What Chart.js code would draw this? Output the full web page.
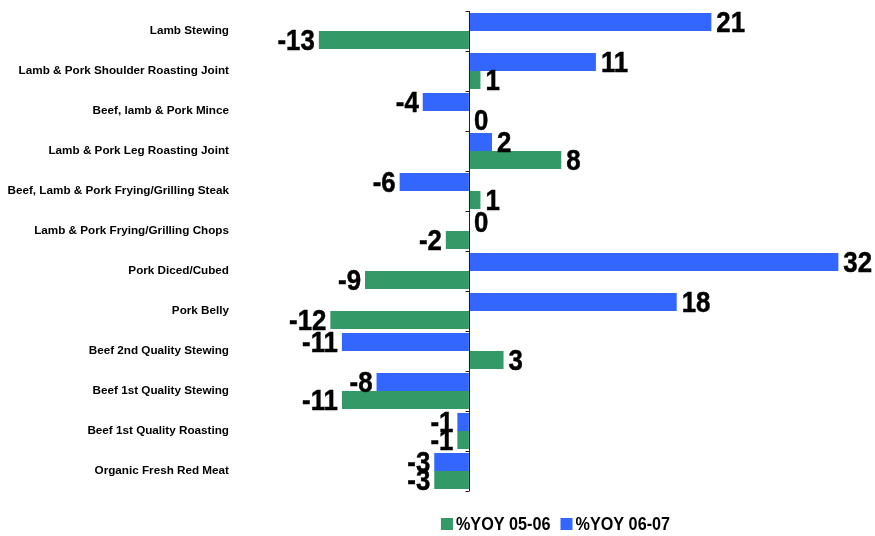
<!DOCTYPE html>
<html>
<head>
<meta charset="utf-8">
<script src="https://cdn.jsdelivr.net/npm/chart.js@4"></script>
<style>
  html, body { margin: 0; padding: 0; background: #fff; }
  #wrap { width: 875px; height: 536px; }
</style>
</head>
<body>
<div id="wrap"><canvas id="c" width="875" height="536"></canvas></div>
<script>
const categories = [
  "Lamb Stewing",
  "Lamb & Pork Shoulder Roasting Joint",
  "Beef, lamb & Pork Mince",
  "Lamb & Pork Leg Roasting Joint",
  "Beef, Lamb & Pork Frying/Grilling Steak",
  "Lamb & Pork Frying/Grilling Chops",
  "Pork Diced/Cubed",
  "Pork Belly",
  "Beef 2nd Quality Stewing",
  "Beef 1st Quality Stewing",
  "Beef 1st Quality Roasting",
  "Organic Fresh Red Meat"
];
const yoy0607 = [21, 11, -4, 2, -6, 0, 32, 18, -11, -8, -1, -3];
const yoy0506 = [-13, 1, 0, 8, 1, -2, -9, -12, 3, -11, -1, -3];
const seriesNames = ["%YOY 06-07", "%YOY 05-06"];
const xMin = -20, xMax = 35;

const BLUE = "#3366FF", GREEN = "#339966";
const FONT = '"Liberation Sans", Arial, sans-serif';

const zeroAxisPlugin = {
  id: "zeroAxis",
  afterDatasetsDraw(chart) {
    const {ctx, chartArea, scales: {x, y}} = chart;
    const x0 = Math.round(x.getPixelForValue(0)) + 0.5;
    ctx.save();
    ctx.strokeStyle = "#222";
    ctx.lineWidth = 1;
    ctx.beginPath();
    ctx.moveTo(x0, chartArea.top);
    ctx.lineTo(x0, chartArea.bottom);
    for (let i = 0; i <= categories.length; i++) {
      const yy = Math.round(y.getPixelForValue(i - 0.5)) + 0.5;
      ctx.moveTo(x0 - 4, yy);
      ctx.lineTo(x0, yy);
    }
    ctx.stroke();
    ctx.restore();
  }
};

const labelPlugin = {
  id: "valueLabels",
  afterDraw(chart) {
    const ctx = chart.ctx;
    ctx.save();
    ctx.fillStyle = "#000";
    ctx.strokeStyle = "#000";
    ctx.lineWidth = 0.5;
    ctx.lineJoin = "miter";
    ctx.font = "bold 30px " + FONT;
    ctx.textBaseline = "middle";
    const sx = 0.86;
    chart.data.datasets.forEach((ds, di) => {
      const meta = chart.getDatasetMeta(di);
      meta.data.forEach((el, i) => {
        const v = ds.data[i];
        const txt = String(v);
        const w = ctx.measureText(txt).width * sx;
        const tx = v >= 0 ? el.x + 5 : el.x - 4 - w;
        ctx.save();
        ctx.translate(tx, el.y + 2);
        ctx.scale(sx, 1);
        ctx.textAlign = "left";
        ctx.fillText(txt, 0, 0);
        ctx.strokeText(txt, 0, 0);
        ctx.restore();
      });
    });
    ctx.restore();
  }
};

const legendPlugin = {
  id: "bottomLegend",
  afterDraw(chart) {
    const {ctx, chartArea} = chart;
    const items = chart.data.datasets.map(d => ({text: d.label, color: d.backgroundColor})).reverse();
    const box = 12, gapBox = 3, gapItem = 10, sx = 0.9;
    ctx.save();
    ctx.font = "bold 18px " + FONT;
    ctx.textBaseline = "middle";
    const widths = items.map(it => ctx.measureText(it.text).width * sx);
    let total = 0;
    items.forEach((it, i) => { total += box + gapBox + widths[i] + (i < items.length - 1 ? gapItem : 0); });
    let xx = (chartArea.left + chartArea.right) / 2 - total / 2;
    const cy = chartArea.bottom + 33;
    items.forEach((it, i) => {
      ctx.fillStyle = it.color;
      ctx.fillRect(xx, cy - box / 2, box, box);
      xx += box + gapBox;
      ctx.save();
      ctx.translate(xx, cy + 1);
      ctx.scale(sx, 1);
      ctx.fillStyle = "#000";
      ctx.fillText(it.text, 0, 0);
      ctx.restore();
      xx += widths[i] + gapItem;
    });
    ctx.restore();
  }
};

new Chart(document.getElementById("c"), {
  type: "bar",
  data: {
    labels: categories,
    datasets: [
      { label: seriesNames[0], data: yoy0607, backgroundColor: BLUE, borderWidth: 0,
        categoryPercentage: 0.9, barPercentage: 1.0 },
      { label: seriesNames[1], data: yoy0506, backgroundColor: GREEN, borderWidth: 0,
        categoryPercentage: 0.9, barPercentage: 1.0 }
    ]
  },
  options: {
    indexAxis: "y",
    responsive: false,
    animation: false,
    layout: { padding: { top: 11, right: 2, left: 0, bottom: 45 } },
    scales: {
      x: { display: false, min: xMin, max: xMax },
      y: {
        grid: { display: false },
        border: { display: false },
        ticks: {
          color: "#000",
          padding: 1,
          font: { family: FONT, size: 11.7, weight: "bold" }
        },
        afterFit(scale) { scale.width = 238; }
      }
    },
    plugins: {
      tooltip: { enabled: false },
      legend: { display: false }
    }
  },
  plugins: [zeroAxisPlugin, labelPlugin, legendPlugin]
});
</script>
</body>
</html>
